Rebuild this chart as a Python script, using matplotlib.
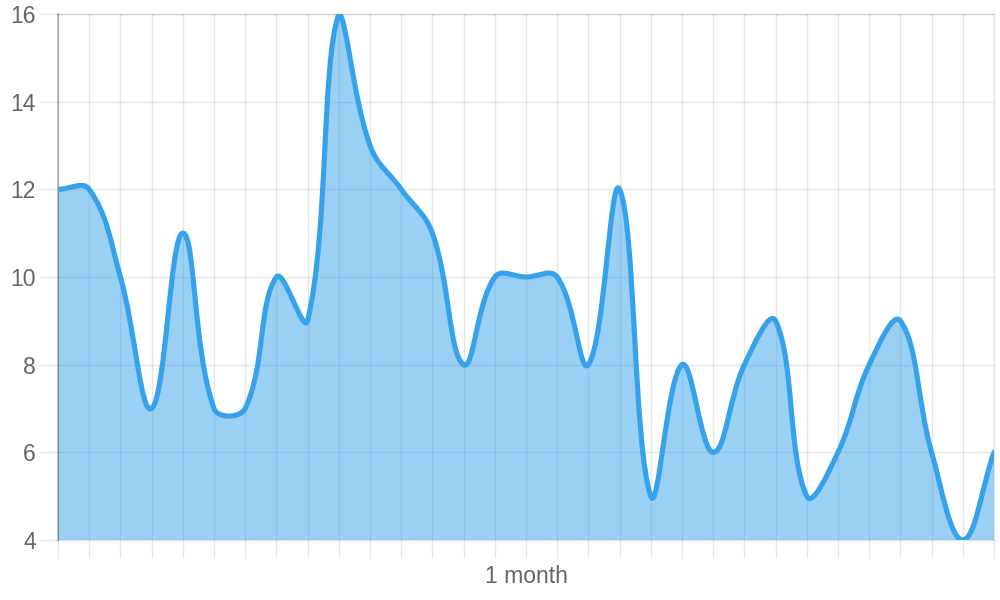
import numpy as np
import matplotlib
matplotlib.use("Agg")
import matplotlib.pyplot as plt
from matplotlib.path import Path
from matplotlib.patches import PathPatch

# ---- data ----
days = list(range(31))
values = [12, 12, 10, 7, 11, 7, 7, 10, 9, 16, 13, 12, 11, 8, 10, 10, 10, 8,
          12, 5, 8, 6, 8, 9, 5, 6, 8, 9, 6, 4, 6]
tick_labels = [""] * 31
tick_labels[15] = "1 month"
y_min, y_max, y_step = 4, 16, 2

line_color = (54/255, 162/255, 235/255)
fill_color = (54/255, 162/255, 235/255, 0.5)
grid_rgb = "#000000"
grid_alpha = 0.1
text_color = "#666666"

plt.rcParams['font.family'] = ['Liberation Sans', 'DejaVu Sans']

fig = plt.figure(figsize=(10, 6), dpi=100)
ax = fig.add_axes([0.058, 0.1, 0.936, 0.8767])
ax.set_xlim(days[0], days[-1])
ax.set_ylim(y_min, y_max)

# Chart.js style spline (tension 0.4) computed in pixel space
fig.canvas.draw()
x = np.array(days, float)
y = np.array(values, float)
pts = ax.transData.transform(np.column_stack([x, y]))
bb = ax.bbox
t = 0.4
n = len(pts)
cp_prev = np.zeros_like(pts)
cp_next = np.zeros_like(pts)
for i in range(n):
    cur = pts[i]
    prev = pts[i-1] if i > 0 else cur
    nxt = pts[i+1] if i < n-1 else cur
    d01 = np.hypot(*(cur - prev))
    d12 = np.hypot(*(nxt - cur))
    s = d01 + d12
    s01 = d01 / s if s else 0
    s12 = d12 / s if s else 0
    cp_prev[i] = cur - t * s01 * (nxt - prev)
    cp_next[i] = cur + t * s12 * (nxt - prev)
# cap control points to chart area
for arr in (cp_prev, cp_next):
    arr[:, 0] = np.clip(arr[:, 0], bb.x0, bb.x1)
    arr[:, 1] = np.clip(arr[:, 1], bb.y0, bb.y1)

inv = ax.transData.inverted()
P = inv.transform(pts)
CP = inv.transform(cp_prev)
CN = inv.transform(cp_next)

verts = [P[0]]
codes = [Path.MOVETO]
for i in range(1, n):
    verts += [CN[i-1], CP[i], P[i]]
    codes += [Path.CURVE4] * 3
line_path = Path(verts, codes)

fill_verts = verts + [(P[-1][0], y_min), (P[0][0], y_min), P[0]]
fill_codes = codes + [Path.LINETO, Path.LINETO, Path.CLOSEPOLY]
ax.add_patch(PathPatch(Path(fill_verts, fill_codes), facecolor=fill_color,
                       edgecolor='none', zorder=1))
ax.add_patch(PathPatch(line_path, facecolor='none', edgecolor=line_color,
                       linewidth=3.7, capstyle='round', joinstyle='round', zorder=3))

# grid & ticks
ax.set_xticks(days)
ax.set_xticklabels(tick_labels)
ax.set_yticks(np.arange(y_min, y_max + 0.1, y_step))
ax.set_yticklabels([str(v) for v in range(y_min, y_max + 1, y_step)])
ax.grid(True, color=grid_rgb, alpha=grid_alpha, linewidth=1.0)
ax.set_axisbelow(True)
tick_rgba = (0, 0, 0, grid_alpha)
ax.tick_params(axis='x', length=13, width=1.0, color=tick_rgba, pad=5,
               labelsize=16.5, labelcolor=text_color)
ax.tick_params(axis='y', length=14, width=1.0, color=tick_rgba, pad=2,
               labelsize=16.5, labelcolor=text_color)
for s in ('top', 'right', 'bottom'):
    ax.spines[s].set_color(tick_rgba)
    ax.spines[s].set_linewidth(1.0)
ax.spines['left'].set_color((0, 0, 0, 0.3))
ax.spines['left'].set_linewidth(1.2)

fig.savefig("out.png", dpi=100)
